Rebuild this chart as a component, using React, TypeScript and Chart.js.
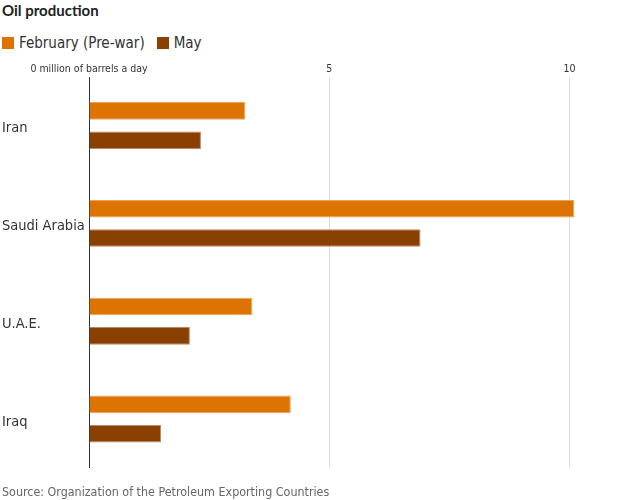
import React, { useEffect, useRef } from "react";
import { Chart, registerables } from "chart.js";

Chart.register(...registerables);

const TITLE = "Oil production";
const SOURCE = "Source: Organization of the Petroleum Exporting Countries";
const countries = ["Iran", "Saudi Arabia", "U.A.E.", "Iraq"];
const seriesNames = ["February (Pre-war)", "May"];
const february = [3.25, 10.1, 3.4, 4.2];
const may = [2.33, 6.9, 2.1, 1.5];
const xTicks = [0, 5, 10];
const zeroLabel = "0 million of barrels a day";
const colors = ["#dd7300", "#8a4000"];
const borderColors = ["#eba35c", "#b98a66"];

const FONT = "'Liberation Sans Narrow', 'DejaVu Sans Condensed', 'Liberation Sans', sans-serif";

export default function App() {
  const ref = useRef<HTMLCanvasElement | null>(null);

  useEffect(() => {
    if (!ref.current) return;
    const chart = new Chart(ref.current, {
      type: "bar",
      data: {
        labels: countries,
        datasets: [february, may].map((d, i) => ({
          label: seriesNames[i],
          data: d,
          backgroundColor: colors[i],
          borderColor: borderColors[i],
          borderWidth: 1,
          borderSkipped: "start" as const,
          categoryPercentage: 0.6,
          barPercentage: 0.6,
        })),
      },
      options: {
        indexAxis: "y",
        responsive: false,
        animation: false,
        layout: { padding: { top: 62, left: 2, right: 2.5, bottom: 32 } },
        plugins: {
          legend: { display: false },
          title: { display: false },
          tooltip: { enabled: false },
        },
        scales: {
          x: {
            position: "top",
            min: 0,
            max: 11,
            afterBuildTicks: (scale: any) => {
              scale.ticks = xTicks.map((v) => ({ value: v }));
            },
            border: { display: false },
            grid: {
              drawTicks: false,
              color: (ctx: any) => (ctx.tick && ctx.tick.value === 0 ? "#333333" : "#dddddd"),
              lineWidth: 1,
            },
            ticks: {
              padding: 1,
              color: "#333333",
              font: { family: FONT, size: 10.5 },
              callback: (v: any) => (v === 0 ? zeroLabel : String(v)),
            },
          },
          y: {
            afterFit: (scale: any) => {
              scale.width = 87;
            },
            border: { display: false },
            grid: { display: false },
            ticks: {
              crossAlign: "far",
              labelOffset: 3,
              color: "#333333",
              font: { family: FONT, size: 14.5 },
            },
          },
        },
      },
    });
    return () => chart.destroy();
  }, []);

  return (
    <div
      style={{
        position: "absolute",
        left: 0,
        top: 0,
        width: 620,
        height: 500,
        background: "#fff",
        fontFamily: FONT,
      }}
    >
      <div
        style={{
          position: "absolute",
          left: 2,
          top: 0,
          fontSize: 15,
          fontWeight: "bold",
          fontFamily: "Lato, " + FONT,
          color: "#222",
          lineHeight: "20px",
        }}
      >
        {TITLE}
      </div>
      <div
        style={{
          position: "absolute",
          left: 2,
          top: 33,
          display: "flex",
          alignItems: "center",
          fontSize: 15,
          color: "#333",
          lineHeight: "20px",
        }}
      >
        {seriesNames.map((n, i) => (
          <div key={n} style={{ display: "flex", alignItems: "center", marginRight: 12 }}>
            <span
              style={{
                display: "inline-block",
                width: 12,
                height: 12,
                background: colors[i],
                marginRight: 5,
              }}
            />
            <span>{n}</span>
          </div>
        ))}
      </div>
      <canvas ref={ref} width={620} height={500} style={{ position: "absolute", left: 0, top: 0 }} />
      <div
        style={{
          position: "absolute",
          left: 2,
          top: 483,
          fontSize: 12.4,
          color: "#666",
          lineHeight: "18px",
        }}
      >
        {SOURCE}
      </div>
    </div>
  );
}
